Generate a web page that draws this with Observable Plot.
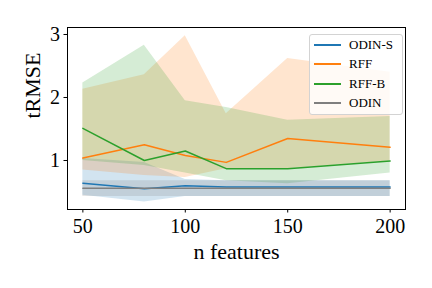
<!DOCTYPE html>
<html><head><meta charset="utf-8">
<script src="https://cdn.jsdelivr.net/npm/d3@7"></script>
<script src="https://cdn.jsdelivr.net/npm/@observablehq/plot@0.6"></script>
<style>
body{margin:0;background:#fff;}
#wrap{position:relative;width:432px;height:288px;overflow:hidden;}
.legend{position:absolute;left:309px;top:34px;width:94px;height:81px;border:1px solid #d3d3d3;border-radius:3px;background:rgba(255,255,255,0.8);box-sizing:border-box;font-family:"Liberation Serif",serif;font-size:13px;color:#000;}
.entry{position:absolute;left:0;height:0;}
.entry .sw{position:absolute;left:4px;top:-1px;width:27px;height:2px;}
.entry .lb{position:absolute;left:39px;top:-8px;line-height:16px;white-space:nowrap;}
</style>
</head><body>
<div id="wrap"></div>
<script>
const methods = ["ODIN-S", "RFF", "RFF-B", "ODIN"];
const colors = ["#1f77b4", "#ff7f0e", "#2ca02c", "#7f7f7f"];
const nFeatures = [50, 80, 100, 120, 150, 200];
const xTicks = [50, 100, 150, 200];
const yTicks = [1, 2, 3];

const odinsMean = [0.64, 0.55, 0.60, 0.58, 0.58, 0.58];
const odinsLo   = [0.45, 0.34, 0.43, 0.43, 0.43, 0.43];
const odinsHi   = [1.03, 0.97, 0.70, 0.68, 0.68, 0.68];

const rffMean = [1.04, 1.25, 1.08, 0.97, 1.35, 1.21];
const rffLo   = [0.85, 0.76, 0.73, 0.87, 0.87, 0.99];
const rffHi   = [2.13, 2.36, 2.98, 1.74, 2.62, 2.40];

const rffbMean = [1.51, 1.00, 1.15, 0.87, 0.87, 0.99];
const rffbLo   = [1.00, 0.92, 0.80, 0.68, 0.63, 0.80];
const rffbHi   = [2.23, 2.83, 1.95, 1.84, 1.64, 1.70];

const odinMean = [0.56, 0.56, 0.56, 0.56, 0.56, 0.56];
const odinLo   = [0.43, 0.43, 0.43, 0.43, 0.43, 0.43];
const odinHi   = [0.68, 0.68, 0.68, 0.68, 0.68, 0.68];

const series = [
  [odinsMean, odinsLo, odinsHi],
  [rffMean, rffLo, rffHi],
  [rffbMean, rffbLo, rffbHi],
  [odinMean, odinLo, odinHi]
];
const rows = [];
methods.forEach((m, i) => {
  nFeatures.forEach((x, j) => {
    rows.push({method: m, x, mean: series[i][0][j], lo: series[i][1][j], hi: series[i][2][j]});
  });
});

const font = "Liberation Serif";
const chart = Plot.plot({
  width: 432, height: 288,
  marginLeft: 67, marginRight: 27, marginTop: 27, marginBottom: 79,
  style: {fontFamily: font, fontSize: "20px", background: "white", color: "black"},
  x: {domain: [42.5, 207.5]},
  y: {domain: [0.222, 3.111]},
  color: {domain: methods, range: colors},
  marks: [
    Plot.areaY(rows, {x: "x", y1: "lo", y2: "hi", z: "method", fill: "method", fillOpacity: 0.2}),
    Plot.lineY(rows, {x: "x", y: "mean", z: "method", stroke: "method", strokeWidth: 1.5}),
    Plot.frame({stroke: "black", strokeWidth: 1}),
    Plot.axisX({ticks: xTicks, tickSize: 3.5, tickPadding: 6, tickFormat: d => String(d), label: null, fontSize: 20, fontFamily: font}),
    Plot.axisY({ticks: yTicks, tickSize: 3.5, tickPadding: 4, tickFormat: d => String(d), label: null, fontSize: 20, fontFamily: font}),
    Plot.text(["n features"], {frameAnchor: "bottom", dy: 42, lineAnchor: "middle", fontSize: 22, fontFamily: font}),
    Plot.text(["tRMSE"], {frameAnchor: "left", dx: -35, lineAnchor: "middle", rotate: -90, fontSize: 22, fontFamily: font})
  ]
});
const wrap = document.getElementById("wrap");
wrap.appendChild(chart);

const legend = d3.select(wrap).append("div").attr("class", "legend");
const rowY = [10, 29.3, 48.7, 68];
methods.forEach((m, i) => {
  const e = legend.append("div").attr("class", "entry").style("top", rowY[i] + "px");
  e.append("div").attr("class", "sw").style("background", colors[i]);
  e.append("div").attr("class", "lb").text(m);
});
</script>
</body></html>
